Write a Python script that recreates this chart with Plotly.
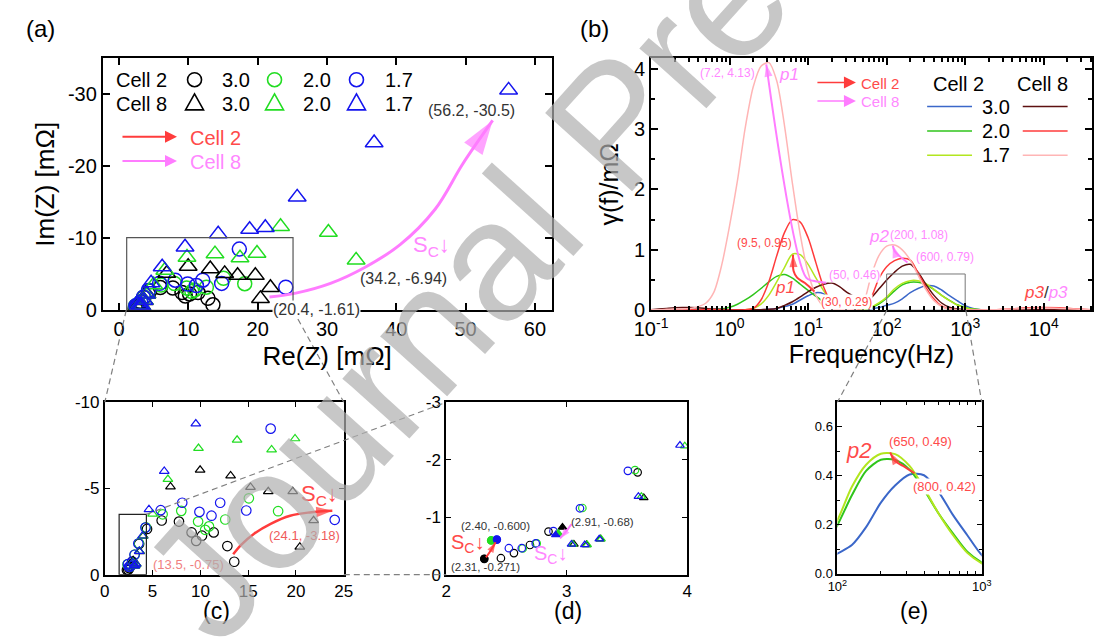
import plotly.graph_objects as go

W, H = 1102, 637
FONT = "Liberation Sans, Arial, sans-serif"

# ---------------- Nyquist data: Re(Z), Im(Z) in mOhm ----------------
c2_30_re = [2.316, 2.454, 2.562, 2.695, 2.849, 3.589, 4.42, 5.95, 7.76, 9.08, 9.56, 10.17, 11.39, 12.82, 13.54]
c2_30_im = [-0.275, -0.286, -0.376, -0.516, -0.75, -1.78, -2.65, -3.14, -3.08, -2.45, -1.96, -2.26, -2.45, -1.66, -0.75]
c2_20_re = [2.373, 2.635, 2.751, 3.13, 3.567, 4.3, 6.05, 8.0, 9.76, 10.5, 10.9, 12.6, 15.07, 18.13]
c2_20_im = [-0.595, -0.455, -0.544, -1.16, -1.82, -2.75, -3.5, -3.7, -3.08, -2.6, -2.8, -3.2, -4.43, -3.68]
c2_17_re = [2.42, 2.52, 2.627, 2.743, 2.89, 3.11, 3.508, 4.25, 5.85, 8.1, 9.9, 11.16, 12.07, 14.8, 17.35, 24.05]
c2_17_im = [-0.61, -0.46, -0.46, -0.544, -0.757, -1.155, -1.806, -2.73, -3.74, -4.17, -3.64, -3.42, -4.17, -3.72, -8.47, -3.18]
c8_30_re = [2.965, 3.06, 3.165, 3.28, 3.64, 4.02, 6.87, 9.97, 13.16, 15.24, 17.1, 19.66, 21.84, 20.4]
c8_30_im = [-0.824, -0.53, -0.52, -0.62, -1.34, -2.24, -5.1, -6.07, -5.74, -5.07, -4.82, -4.82, -3.14, -1.61]
c8_20_re = [2.93, 3.05, 3.17, 3.285, 3.62, 3.98, 5.0, 6.6, 9.8, 13.84, 17.45, 19.9, 23.3, 30.2, 34.2]
c8_20_im = [-0.72, -0.53, -0.52, -0.62, -1.36, -2.24, -3.52, -5.53, -7.33, -7.81, -7.25, -7.89, -11.6, -10.8, -6.94]
c8_17_re = [2.91, 3.04, 3.15, 3.27, 3.595, 3.94, 4.62, 6.22, 9.52, 14.3, 18.84, 21.1, 25.7, 36.8, 56.2]
c8_17_im = [-0.695, -0.53, -0.52, -0.62, -1.36, -2.25, -3.78, -6.0, -8.75, -10.57, -11.2, -11.46, -15.67, -23.2, -30.5]

# ---------------- DRT data: gamma(f) in mOhm ----------------
freq_hz = [0.1, 0.126, 0.158, 0.2, 0.251, 0.316, 0.398, 0.501, 0.631, 0.794,
           1.0, 1.26, 1.58, 2.0, 2.51, 3.16, 3.98, 5.01, 6.31, 7.94,
           10, 12.6, 15.8, 20.0, 25.1, 31.6, 39.8, 50.1, 63.1, 79.4,
           100, 126, 158, 200, 251, 316, 398, 501, 631, 794,
           1000, 1259, 1585, 2512, 3981, 6310, 10000, 15849, 25119, 39811]
g_c2_30 = [0.005, 0.005, 0.005, 0.005, 0.005, 0.005, 0.005, 0.005, 0.005, 0.005,
           0.005, 0.005, 0.005, 0.005, 0.008, 0.015, 0.03, 0.06, 0.1, 0.17,
           0.24, 0.29, 0.27, 0.15, 0.05, 0.01, 0.005, 0.005, 0.02, 0.045,
           0.082, 0.117, 0.19, 0.29, 0.36, 0.405, 0.402, 0.335, 0.24, 0.157,
           0.076, 0.03, 0.01, 0.005, 0.005, 0.005, 0.005, 0.005, 0.005, 0.005]
g_c2_20 = [0.005, 0.005, 0.005, 0.005, 0.005, 0.005, 0.005, 0.005, 0.01, 0.02,
           0.05, 0.1, 0.17, 0.26, 0.36, 0.47, 0.56, 0.59, 0.53, 0.43,
           0.33, 0.23, 0.14, 0.07, 0.03, 0.01, 0.005, 0.01, 0.04, 0.1,
           0.198, 0.32, 0.42, 0.465, 0.464, 0.425, 0.343, 0.247, 0.165, 0.09,
           0.046, 0.02, 0.01, 0.005, 0.005, 0.005, 0.005, 0.005, 0.005, 0.005]
g_c2_17 = [0.005, 0.005, 0.005, 0.005, 0.005, 0.005, 0.005, 0.005, 0.005, 0.005,
           0.005, 0.005, 0.008, 0.03, 0.1, 0.25, 0.47, 0.71, 0.93, 0.92,
           0.76, 0.53, 0.32, 0.14, 0.05, 0.015, 0.005, 0.01, 0.05, 0.12,
           0.218, 0.355, 0.445, 0.49, 0.488, 0.44, 0.35, 0.247, 0.158, 0.085,
           0.042, 0.015, 0.008, 0.005, 0.005, 0.005, 0.005, 0.005, 0.005, 0.005]
g_c8_30 = [0.01, 0.02, 0.03, 0.04, 0.045, 0.045, 0.04, 0.03, 0.02, 0.015,
           0.01, 0.01, 0.01, 0.01, 0.01, 0.015, 0.03, 0.08, 0.14, 0.22,
           0.31, 0.38, 0.43, 0.45, 0.39, 0.29, 0.22, 0.19, 0.21, 0.35,
           0.5, 0.63, 0.73, 0.76, 0.63, 0.43, 0.25, 0.12, 0.05, 0.02,
           0.01, 0.005, 0.005, 0.005, 0.01, 0.01, 0.01, 0.01, 0.005, 0.005]
g_c8_20 = [0.01, 0.01, 0.01, 0.01, 0.01, 0.01, 0.01, 0.01, 0.01, 0.005,
           0.005, 0.005, 0.01, 0.03, 0.17, 0.47, 0.9, 1.29, 1.5, 1.46,
           1.2, 0.78, 0.38, 0.12, 0.03, 0.01, 0.01, 0.04, 0.2, 0.52,
           0.72, 0.82, 0.86, 0.83, 0.62, 0.38, 0.19, 0.07, 0.02, 0.01,
           0.005, 0.005, 0.005, 0.01, 0.025, 0.04, 0.045, 0.04, 0.025, 0.01]
g_c8_17 = [0.01, 0.01, 0.015, 0.02, 0.02, 0.03, 0.06, 0.12, 0.3, 0.75,
           1.4, 2.15, 3.02, 3.7, 4.04, 4.1, 3.8, 3.05, 2.1, 1.25,
           0.62, 0.24, 0.06, 0.02, 0.01, 0.01, 0.01, 0.11, 0.56, 0.9,
           1.06, 1.08, 1.0, 0.83, 0.58, 0.34, 0.16, 0.06, 0.02, 0.01,
           0.005, 0.005, 0.005, 0.01, 0.02, 0.03, 0.035, 0.03, 0.02, 0.01]

# ---------------- annotation arrow paths ----------------
arrA_re = [21.7, 25.5, 30.5, 35.5, 40.55, 45.6, 49.6, 53.9]
arrA_im = [-1.84, -2.37, -3.72, -5.96, -9.09, -14.0, -20.3, -26.3]
arrC_re = [13.43, 14.29, 15.65, 17.35, 19.39, 21.43, 23.8]
arrC_im = [-1.18, -1.74, -2.39, -2.95, -3.42, -3.61, -3.7]
arrD1_re = [2.33, 2.37, 2.41]
arrD1_im = [-0.30, -0.42, -0.565]
arrD2_re = [3.04, 2.99, 2.945]
arrD2_im = [-0.88, -0.74, -0.63]
arrB1_f = [12.0, 9.12, 7.24, 6.53, 6.43]
arrB1_g = [0.31, 0.45, 0.54, 0.65, 0.92]
arrB2_f = [17.0, 11.6, 9.44, 2.93]
arrB2_g = [0.455, 0.487, 0.54, 4.07]
arrB3_f = [184, 145, 126, 120]
arrB3_g = [0.79, 0.9, 0.98, 1.07]
arrE_f = [342, 285, 251, 232]
arrE_g = [0.41, 0.44, 0.46, 0.495]

BLACK, MGREEN, MBLUE = "#000000", "#22dd22", "#1414ee"
C_BLUE, C_GREEN, C_YG = "#3b67c9", "#2fc51b", "#b2e61f"
C_BROWN, C_RED, C_PINK = "#5e1010", "#ff3b3b", "#ffb5b5"
ARR_RED, ARR_MAG = "#ff3c3c", "#ff7cff"
T_RED, T_PINK = "#ff4a4a", "#ff88ff"

fig = go.Figure()

series = [
    (c2_30_re, c2_30_im, "circle", BLACK),
    (c2_20_re, c2_20_im, "circle", MGREEN),
    (c2_17_re, c2_17_im, "circle", MBLUE),
    (c8_30_re, c8_30_im, "triangle-up", BLACK),
    (c8_20_re, c8_20_im, "triangle-up", MGREEN),
    (c8_17_re, c8_17_im, "triangle-up", MBLUE),
]
panels = [("x", "y", 14, 15.5, 1.5), ("x3", "y3", 9.5, 8.5, 1.2), ("x4", "y4", 7.5, 7.5, 1.2)]
for xa, ya, sc, st, lw in panels:
    for re_, im_, sym, col in series:
        fig.add_trace(go.Scatter(
            x=re_, y=im_, mode="markers", xaxis=xa, yaxis=ya,
            marker=dict(symbol=sym + "-open", size=sc if sym == "circle" else st,
                        color=col, line=dict(width=lw, color=col)),
            showlegend=False, hoverinfo="skip"))
# filled first (highest-frequency) points in (d)
for re_, im_, sym, col in series:
    fig.add_trace(go.Scatter(
        x=re_[:1], y=im_[:1], mode="markers", xaxis="x4", yaxis="y4",
        marker=dict(symbol=sym, size=8, color=col, line=dict(width=0)),
        showlegend=False, hoverinfo="skip"))

# DRT curves (b)
curves = [(g_c2_30, C_BLUE), (g_c2_20, C_GREEN), (g_c2_17, C_YG),
          (g_c8_30, C_BROWN), (g_c8_20, C_RED), (g_c8_17, C_PINK)]
for g, col in curves:
    fig.add_trace(go.Scatter(x=freq_hz, y=g, mode="lines", xaxis="x2", yaxis="y2",
                             line=dict(color=col, width=1.5, shape="spline", smoothing=0.8),
                             showlegend=False, hoverinfo="skip"))
# zoom (e): Cell 2 only
for g, col in curves[:3]:
    fig.add_trace(go.Scatter(x=freq_hz, y=g, mode="lines", xaxis="x5", yaxis="y5",
                             line=dict(color=col, width=2, shape="spline", smoothing=0.8),
                             showlegend=False, hoverinfo="skip"))

# inset box on (b)
box_f = [100, 1000, 1000, 100, 100]
box_g = [0, 0, 0.6, 0.6, 0]
fig.add_trace(go.Scatter(x=box_f, y=box_g, mode="lines", xaxis="x2", yaxis="y2",
                         line=dict(color="#777777", width=1), showlegend=False, hoverinfo="skip"))


def add_arrow(xs, ys, xa, ya, color, width, head):
    n = len(xs)
    fig.add_trace(go.Scatter(
        x=xs, y=ys, xaxis=xa, yaxis=ya, mode="lines+markers",
        line=dict(color=color, width=width, shape="spline"),
        marker=dict(symbol="arrow", size=[0] * (n - 1) + [head], angleref="previous",
                    color=color, line=dict(width=0)),
        showlegend=False, hoverinfo="skip", cliponaxis=False))


add_arrow(arrA_re, arrA_im, "x", "y", ARR_MAG, 3, 36)
add_arrow(arrC_re, arrC_im, "x3", "y3", ARR_RED, 2.5, 17)
add_arrow(arrD1_re, arrD1_im, "x4", "y4", ARR_RED, 2, 11)
add_arrow(arrD2_re, arrD2_im, "x4", "y4", ARR_MAG, 2, 11)
add_arrow(arrB1_f, arrB1_g, "x2", "y2", ARR_RED, 2, 13)
add_arrow(arrB2_f, arrB2_g, "x2", "y2", ARR_MAG, 2, 13)
add_arrow(arrB3_f, arrB3_g, "x2", "y2", ARR_MAG, 2, 13)
add_arrow(arrE_f, arrE_g, "x5", "y5", ARR_RED, 2, 13)


def dom(a, b, total):
    return [a / total, b / total]


def ydom(top, bottom):
    return [1 - bottom / H, 1 - top / H]


axis_common = dict(showline=True, linecolor="black", mirror="ticks", ticks="inside",
                   tickcolor="black", showgrid=False, zeroline=False)

minor_log = [m * 10 ** e for e in range(-1, 5) for m in range(2, 10)]

layout = dict(
    width=W, height=H, autosize=False,
    margin=dict(l=0, r=0, t=0, b=0),
    paper_bgcolor="white", plot_bgcolor="white",
    font=dict(family=FONT, color="black"),
    showlegend=False,
    xaxis=dict(axis_common, domain=dom(88, 548, W), range=[-2.34, 62.4],
               tickvals=[0, 10, 20, 30, 40, 50, 60], linewidth=2, ticklen=7, tickwidth=1.5,
               tickfont=dict(size=20), anchor="y",
               title=dict(text="Re(Z) [mΩ]", font=dict(size=26), standoff=8)),
    yaxis=dict(axis_common, domain=ydom(51, 311), range=[0, -34.9],
               tickvals=[0, -10, -20, -30], ticktext=["0", "-10", "-20", "-30"],
               linewidth=2, ticklen=7, tickwidth=1.5, tickfont=dict(size=20), anchor="x",
               title=dict(text="Im(Z) [mΩ]", font=dict(size=26), standoff=6)),
    xaxis2=dict(axis_common, domain=dom(650, W, W), type="log", range=[-1, 4.615],
                tickvals=[0.1, 1, 10, 100, 1000, 10000],
                ticktext=["10<sup>-1</sup>", "10<sup>0</sup>", "10<sup>1</sup>", "10<sup>2</sup>",
                          "10<sup>3</sup>", "10<sup>4</sup>"],
                minor=dict(tickvals=minor_log, ticks="inside", ticklen=4, tickcolor="black"),
                linewidth=2, ticklen=7, tickwidth=1.5, tickfont=dict(size=20), anchor="y2",
                title=dict(text="Frequency(Hz)", font=dict(size=25), standoff=6)),
    yaxis2=dict(axis_common, domain=ydom(51, 311), range=[0, 4.17], dtick=1,
                minor=dict(dtick=0.5, ticks="inside", ticklen=4, tickcolor="black"),
                linewidth=2, ticklen=7, tickwidth=1.5, tickfont=dict(size=20), anchor="x2",
                title=dict(text="γ(f)/mΩ", font=dict(size=25), standoff=8)),
    xaxis3=dict(axis_common, domain=dom(90, 335, W), range=[0, 25], dtick=5,
                linewidth=1.8, ticklen=5, tickfont=dict(size=17), anchor="y3"),
    yaxis3=dict(axis_common, domain=ydom(406, 584), range=[0, -10],
                tickvals=[0, -5, -10], ticktext=["0", "-5", "-10"],
                linewidth=1.8, ticklen=5, tickfont=dict(size=17), anchor="x3"),
    xaxis4=dict(axis_common, domain=dom(440, 687, W), range=[2, 4], dtick=1,
                linewidth=1.8, ticklen=5, tickfont=dict(size=17), anchor="y4"),
    yaxis4=dict(axis_common, domain=ydom(406, 584), range=[0, -3],
                tickvals=[0, -1, -2, -3], ticktext=["0", "-1", "-2", "-3"],
                linewidth=1.8, ticklen=5, tickfont=dict(size=17), anchor="x4"),
    xaxis5=dict(axis_common, domain=dom(841, 989, W), type="log", range=[2, 3],
                tickvals=[100, 1000], ticktext=["10<sup>2</sup>", "10<sup>3</sup>"],
                minor=dict(tickvals=minor_log, ticks="inside", ticklen=3, tickcolor="black"),
                linewidth=1.8, ticklen=5, tickfont=dict(size=13), anchor="y5"),
    yaxis5=dict(axis_common, domain=ydom(406, 583), range=[0, 0.7],
                tickvals=[0, 0.2, 0.4, 0.6], ticktext=["0.0", "0.2", "0.4", "0.6"],
                minor=dict(dtick=0.1, ticks="inside", ticklen=3, tickcolor="black"),
                linewidth=1.8, ticklen=5, tickfont=dict(size=13), anchor="x5"),
)

shapes = []
# inset boxes
shapes.append(dict(type="rect", xref="x", yref="y", x0=1.1, x1=25.1, y0=0, y1=-10.07,
                   line=dict(color="#555555", width=1.2)))
shapes.append(dict(type="rect", xref="x3", yref="y3", x0=1.5, x1=4.35, y0=0, y1=-3.5,
                   line=dict(color="#222222", width=1.2)))


def conn(x0, y0, x1, y1):
    shapes.append(dict(type="line", xref="paper", yref="paper", x0=x0 / W, y0=1 - y0 / H,
                       x1=x1 / W, y1=1 - y1 / H, line=dict(color="#808080", width=1.2, dash="6px,4px"),
                       layer="above"))


conn(112, 311, 90, 406)
conn(283, 311, 335, 406)
conn(132.6, 521.7, 440, 406)
conn(335, 584, 440, 584)
conn(891.7, 311, 841, 406)
conn(972.7, 311, 989, 406)


# legend markers of (a)
def circ(x, y, col, r=7):
    shapes.append(dict(type="circle", xref="paper", yref="paper", xsizemode="pixel", ysizemode="pixel",
                       xanchor=x / W, yanchor=1 - y / H, x0=-r, x1=r, y0=-r, y1=r,
                       line=dict(color=col, width=1.6)))


def tri(x, y, col):
    shapes.append(dict(type="path", xref="paper", yref="paper", xsizemode="pixel", ysizemode="pixel",
                       xanchor=x / W, yanchor=1 - y / H, path="M-9,-6 L9,-6 L0,10 Z",
                       line=dict(color=col, width=1.6)))


for xx, col in [(182, BLACK), (264, MGREEN), (348, MBLUE)]:
    circ(xx, 73, col)
    tri(xx, 98, col)


# legend lines of (b)
def lline(x0, x1, y, col):
    shapes.append(dict(type="line", xref="paper", yref="paper", x0=x0 / W, x1=x1 / W,
                       y0=1 - y / H, y1=1 - y / H, line=dict(color=col, width=1.6)))


for yy, c2c, c8c in [(100.7, C_BLUE, C_BROWN), (126, C_GREEN, C_RED), (151, C_YG, C_PINK)]:
    lline(933, 979, yy, c2c)
    lline(1031, 1077, yy, c8c)

annotations = []


def txt(x, y, s, size, color="black", xanchor="center", angle=0, bg=None):
    a = dict(x=x / W, y=1 - y / H, xref="paper", yref="paper", text=s, showarrow=False,
             font=dict(family=FONT, size=size, color=color), xanchor=xanchor,
             yanchor="middle", textangle=angle)
    if bg:
        a["bgcolor"] = bg
        a["borderpad"] = 0
    annotations.append(a)


def larrow(x0, x1, y, col, width=2, size=1.2):
    annotations.append(dict(x=x1 / W, y=1 - y / H, xref="paper", yref="paper", text="",
                            showarrow=True, ax=-(x1 - x0), ay=0, axref="pixel", ayref="pixel",
                            arrowhead=2, arrowsize=size, arrowwidth=width, arrowcolor=col, standoff=0))


# panel labels
txt(24, 20, "(a)", 24)
txt(592, 20, "(b)", 24)
txt(205, 622, "(c)", 23)
txt(565, 622, "(d)", 23)
txt(920, 622, "(e)", 23)

# (a) legend
txt(128, 73, "Cell 2", 20)
txt(128, 98, "Cell 8", 20)
for xx, s in [(224, "3.0"), (307.5, "2.0"), (392, "1.7")]:
    txt(xx, 73, s, 20)
    txt(xx, 98, s, 20)
larrow(108, 164, 132, ARR_RED, 2, 1.2)
txt(203, 133, "Cell 2", 20, T_RED)
larrow(108, 164, 157, ARR_MAG, 2, 1.2)
txt(203, 158, "Cell 8", 20, T_PINK)
# (a) texts
txt(465.7, 105, "(56.2, -30.5)", 16, "#333333")
txt(396.4, 278, "(34.2, -6.94)", 16, "#333333")
txt(307, 310, "(20.4, -1.61)", 16, "#333333", bg="white")
txt(425, 245, "S<sub>C</sub>↓", 22, T_PINK)

# (b) legend and texts
txt(964.7, 77, "Cell 2", 20)
txt(1051.3, 77, "Cell 8", 20)
for yy, s in [(100.7, "3.0"), (126, "2.0"), (151, "1.7")]:
    txt(1004, yy, s, 20)
larrow(820, 860, 76, ARR_RED, 1.5, 1.6)
txt(863, 77, "Cell 2", 15, T_RED, xanchor="left")
larrow(820, 860, 95, ARR_MAG, 1.5, 1.6)
txt(863, 96, "Cell 8", 15, T_PINK, xanchor="left")
txt(728, 66, "(7.2, 4.13)", 12, T_PINK)
txt(791, 68, "<i>p1</i>", 17, T_PINK)
txt(766.7, 242, "(9.5, 0.95)", 12, T_RED)
txt(787.5, 288, "<i>p1</i>", 17, T_RED)
txt(859, 275, "(50, 0.46)", 12, T_PINK, bg="white")
txt(850, 303, "(30, 0.29)", 12, T_RED, bg="white")
txt(884, 235, "<i>p2</i>", 17, T_PINK)
txt(924.3, 233, "(200, 1.08)", 12, T_PINK)
txt(951.7, 256, "(600, 0.79)", 12, T_PINK)
txt(1054.7, 293, "<i><span style='color:%s'>p3</span></i>/<i><span style='color:%s'>p3</span></i>"
    % (T_RED, T_PINK), 17, "#333333")

# (c) texts
txt(310, 502, "S<sub>C</sub>↓", 22, T_RED)
txt(295, 544, "(24.1, -3.18)", 13, "#f05a5a")
txt(175.8, 573, "(13.5, -0.75)", 13, "#f08080")
# (d) texts
txt(491, 534, "(2.40, -0.600)", 11.5, "#333333")
txt(480.5, 576, "(2.31, -0.271)", 11.5, "#333333")
txt(600, 530, "(2.91, -0.68)", 11.5, "#333333")
txt(462, 552, "S<sub>C</sub>↓", 20, T_RED)
txt(547, 563, "S<sub>C</sub>↓", 20, T_PINK)
# (e) texts
txt(862.5, 456, "<i>p2</i>", 22, T_RED)
txt(926.7, 447, "(650, 0.49)", 13, T_RED)
txt(951.3, 493, "(800, 0.42)", 13, T_RED, bg="white")

# watermark
txt(612, 118, "Journal Pre-proof", 170, "rgba(175,175,175,0.7)", angle=-48)

layout["shapes"] = shapes
layout["annotations"] = annotations
fig.update_layout(**layout)
fig.write_html("out.html")
